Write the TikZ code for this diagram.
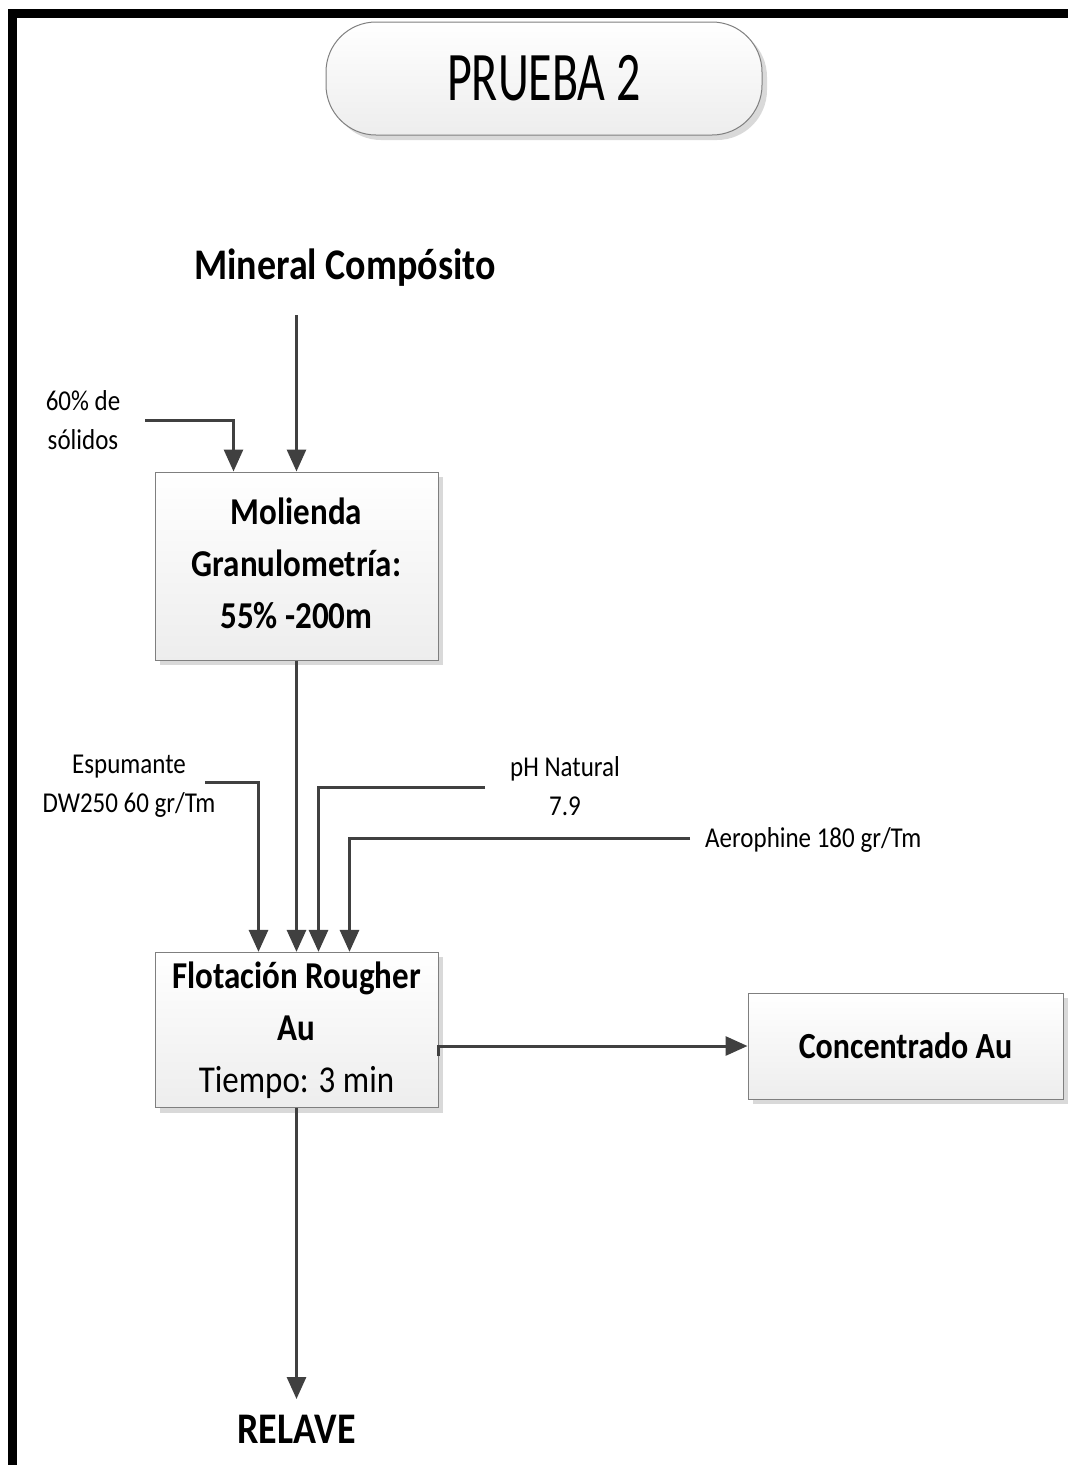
\documentclass[tikz,border=0pt]{standalone}
\usepackage{fontspec}
\setmainfont{Carlito}
\usepackage{graphicx}
\usetikzlibrary{arrows.meta,shadows,calc}

\definecolor{flowc}{HTML}{404040}
\definecolor{edgec}{HTML}{7F7F7F}

% slightly tall lettering used throughout the sheet
\newcommand\tall[1]{\scalebox{1}[1.15]{#1}}

\begin{document}
\begin{tikzpicture}[x=1pt,y=-1pt,
  flow/.style={draw=flowc, line width=3pt, -{Triangle[length=22pt,width=19pt]}},
  procbox/.style={draw=edgec, line width=1pt, top color=white, bottom color=gray!14,
    drop shadow={shadow xshift=5pt, shadow yshift=-5pt, fill=gray!30, opacity=1},
    inner sep=0pt},
  tag/.style={font=\fontsize{25}{34}\selectfont, align=center, inner sep=0pt},
  boxtext/.style={font=\fontsize{33}{45}\selectfont},
]
\useasboundingbox (0,0) rectangle (1068,1465);

% frame of the sheet
\fill[black] (8,9) rectangle (1068,18);
\fill[black] (8,9) rectangle (17,1465);

% heading
\node[procbox, rounded corners=50pt, minimum width=436pt, minimum height=113pt]
  (title) at (544,78.5) {\scalebox{1}[1.45]{\fontsize{48}{48}\selectfont PRUEBA 2}};

% process nodes
\node[font=\fontsize{38}{38}\selectfont\bfseries] (mineral) at (345,268) {\tall{Mineral Compósito}};

\node[procbox, boxtext, minimum width=283pt, minimum height=188pt] (mol) at (296.5,566)
  {\tall{\bfseries\begin{tabular}{@{}c@{}}Molienda\\Granulometría:\\55\% -200m\end{tabular}}};

\node[procbox, boxtext, minimum width=283pt, minimum height=150pt] (flot) at (296.5,1030)
  {\tall{\begin{tabular}{@{}c@{}}\textbf{Flotación Rougher}\\\textbf{Au}\\Tiempo: 3 min\end{tabular}}};

\node[procbox, font=\fontsize{32}{32}\selectfont\bfseries, minimum width=315pt, minimum height=106pt]
  (conc) at (905.5,1046) {\tall{Concentrado Au}};

\node[font=\fontsize{38}{38}\selectfont\bfseries, inner sep=0pt, anchor=north]
  (relave) at (296.5,1415) {\tall{RELAVE}};

% reagent and condition labels
\node[tag] (sol) at (83,422) {\tall{\begin{tabular}{@{}c@{}}60\% de\\sólidos\end{tabular}}};
\node[tag] (esp) at (129,785) {\tall{\begin{tabular}{@{}c@{}}Espumante\\DW250 60 gr/Tm\end{tabular}}};
\node[tag] (ph) at (565,788) {\tall{\begin{tabular}{@{}c@{}}pH Natural\\7.9\end{tabular}}};
\node[tag, anchor=west] (aero) at (705,840) {\tall{Aerophine 180 gr/Tm}};

% loose ends of the feed lines
\coordinate (solin) at (145,420);
\coordinate (minin) at (296.5,315);
\coordinate (espin) at (205,782);
\coordinate (phin) at (485,787);
\coordinate (aeroin) at (690,838);

% flows
\draw[flow] (solin) -| ($(mol.north west)+(79,0)$);
\draw[flow] (minin) -- (mol.north);
\draw[flow] (mol.south) -- (flot.north);
\draw[flow] (espin) -| ($(flot.north west)+(104,0)$);
\draw[flow] (phin) -| ($(flot.north west)+(164,0)$);
\draw[flow] (aeroin) -| ($(flot.north west)+(195,0)$);
\draw[flow] ($(flot.east |- conc.west)+(0,10)$) -- (flot.east |- conc.west) -- (conc.west);
\draw[flow] (flot.south) -- ([yshift=16pt]relave.north);
\end{tikzpicture}
\end{document}
